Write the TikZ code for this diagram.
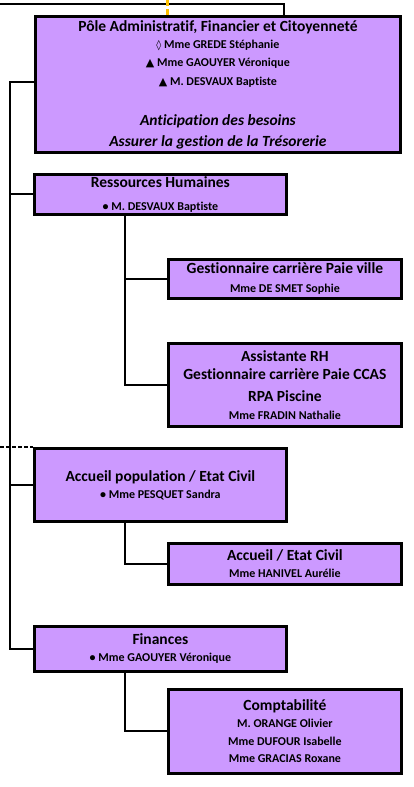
\documentclass[tikz,border=0pt]{standalone}
\usepackage{fontspec}
\setmainfont{Carlito}[Ligatures=NoCommon]
\newfontfamily\symfont{DejaVu Sans}
\definecolor{boxfill}{RGB}{204,153,255}
\definecolor{gold}{RGB}{255,192,0}
\newcommand\nm[1]{{\fontsize{12}{17}\selectfont #1}}
\newcommand\tri{{\symfont\fontsize{11}{17}\selectfont ▲}}
\newcommand\loz{{\symfont\bfseries\fontsize{10}{17}\selectfont ◊}}
\begin{document}
\begin{tikzpicture}[x=1pt,y=-1pt,
  box/.style={draw=black, line width=2.8pt, fill=boxfill, anchor=north west,
    align=center, inner sep=0pt, font=\fontsize{15.5}{17}\selectfont\bfseries},
  conn/.style={line width=1.9pt, draw=black},
]
\useasboundingbox (0,0) rectangle (414,787);

\node[box, minimum width=365pt, minimum height=136pt] (pole) at (34,15)
  {Pôle Administratif, Financier et Citoyenneté\\[0pt]
   \nm{\loz{} Mme GREDE Stéphanie}\\[1pt]
   \nm{\tri{} Mme GAOUYER Véronique}\\[2pt]
   \nm{\tri{} M. DESVAUX Baptiste}\\[23pt]
   \itshape Anticipation des besoins\\[4pt]
   \itshape Assurer la gestion de la Trésorerie};

\node[box, minimum width=252pt, minimum height=40pt] (rh) at (33,173)
  {Ressources Humaines\\[6pt]\nm{• M. DESVAUX Baptiste}};
\node[box, minimum width=233pt, minimum height=39pt] (gest) at (167,258)
  {Gestionnaire carrière Paie ville\\[2pt]\nm{Mme DE SMET Sophie}};
\node[box, minimum width=233pt, minimum height=83pt] (assist) at (167,342)
  {Assistante RH\\[1pt]Gestionnaire carrière Paie CCAS\\[5pt]RPA Piscine\\[1pt]\nm{Mme FRADIN Nathalie}};
\node[box, minimum width=252pt, minimum height=73pt] (accpop) at (33,447)
  {Accueil population / Etat Civil\\\nm{• Mme PESQUET Sandra}};
\node[box, minimum width=233pt, minimum height=41pt] (accec) at (167,542)
  {Accueil / Etat Civil\\\nm{Mme HANIVEL Aurélie}};
\node[box, minimum width=252pt, minimum height=45pt] (fin) at (33,625)
  {Finances\\\nm{• Mme GAOUYER Véronique}};
\node[box, minimum width=233pt, minimum height=84pt] (compta) at (167,688)
  {Comptabilité\\\nm{M. ORANGE Olivier}\\[1pt]\nm{Mme DUFOUR Isabelle}\\\nm{Mme GRACIAS Roxane}};

\coordinate (topl) at (0,4);
\coordinate (dashl) at (0,447);
\coordinate (orange) at (167,0);
\coordinate (spine) at (10,82);

% connectors
\draw[conn] (topl) -| (pole.north west -| 284,0);
\draw[gold, line width=3pt, dash pattern=on 6pt off 3pt] (orange) -- (orange |- pole.north);
\draw[conn] (pole.west |- spine) -- (spine) |- (fin.west);
\draw[conn] (spine |- rh.west) -- (rh.west);
\draw[conn] (spine |- accpop.west) -- (accpop.west);
\draw[conn, line width=2.2pt, dash pattern=on 4pt off 2pt] (dashl) -- (accpop.north west);
\draw[conn] (rh.south -| 125,0) |- (gest.west);
\draw[conn] (rh.south -| 125,0) |- (assist.west);
\draw[conn] (accpop.south -| 125,0) |- (accec.west);
\draw[conn] (fin.south -| 125,0) |- (compta.west);
\end{tikzpicture}
\end{document}
